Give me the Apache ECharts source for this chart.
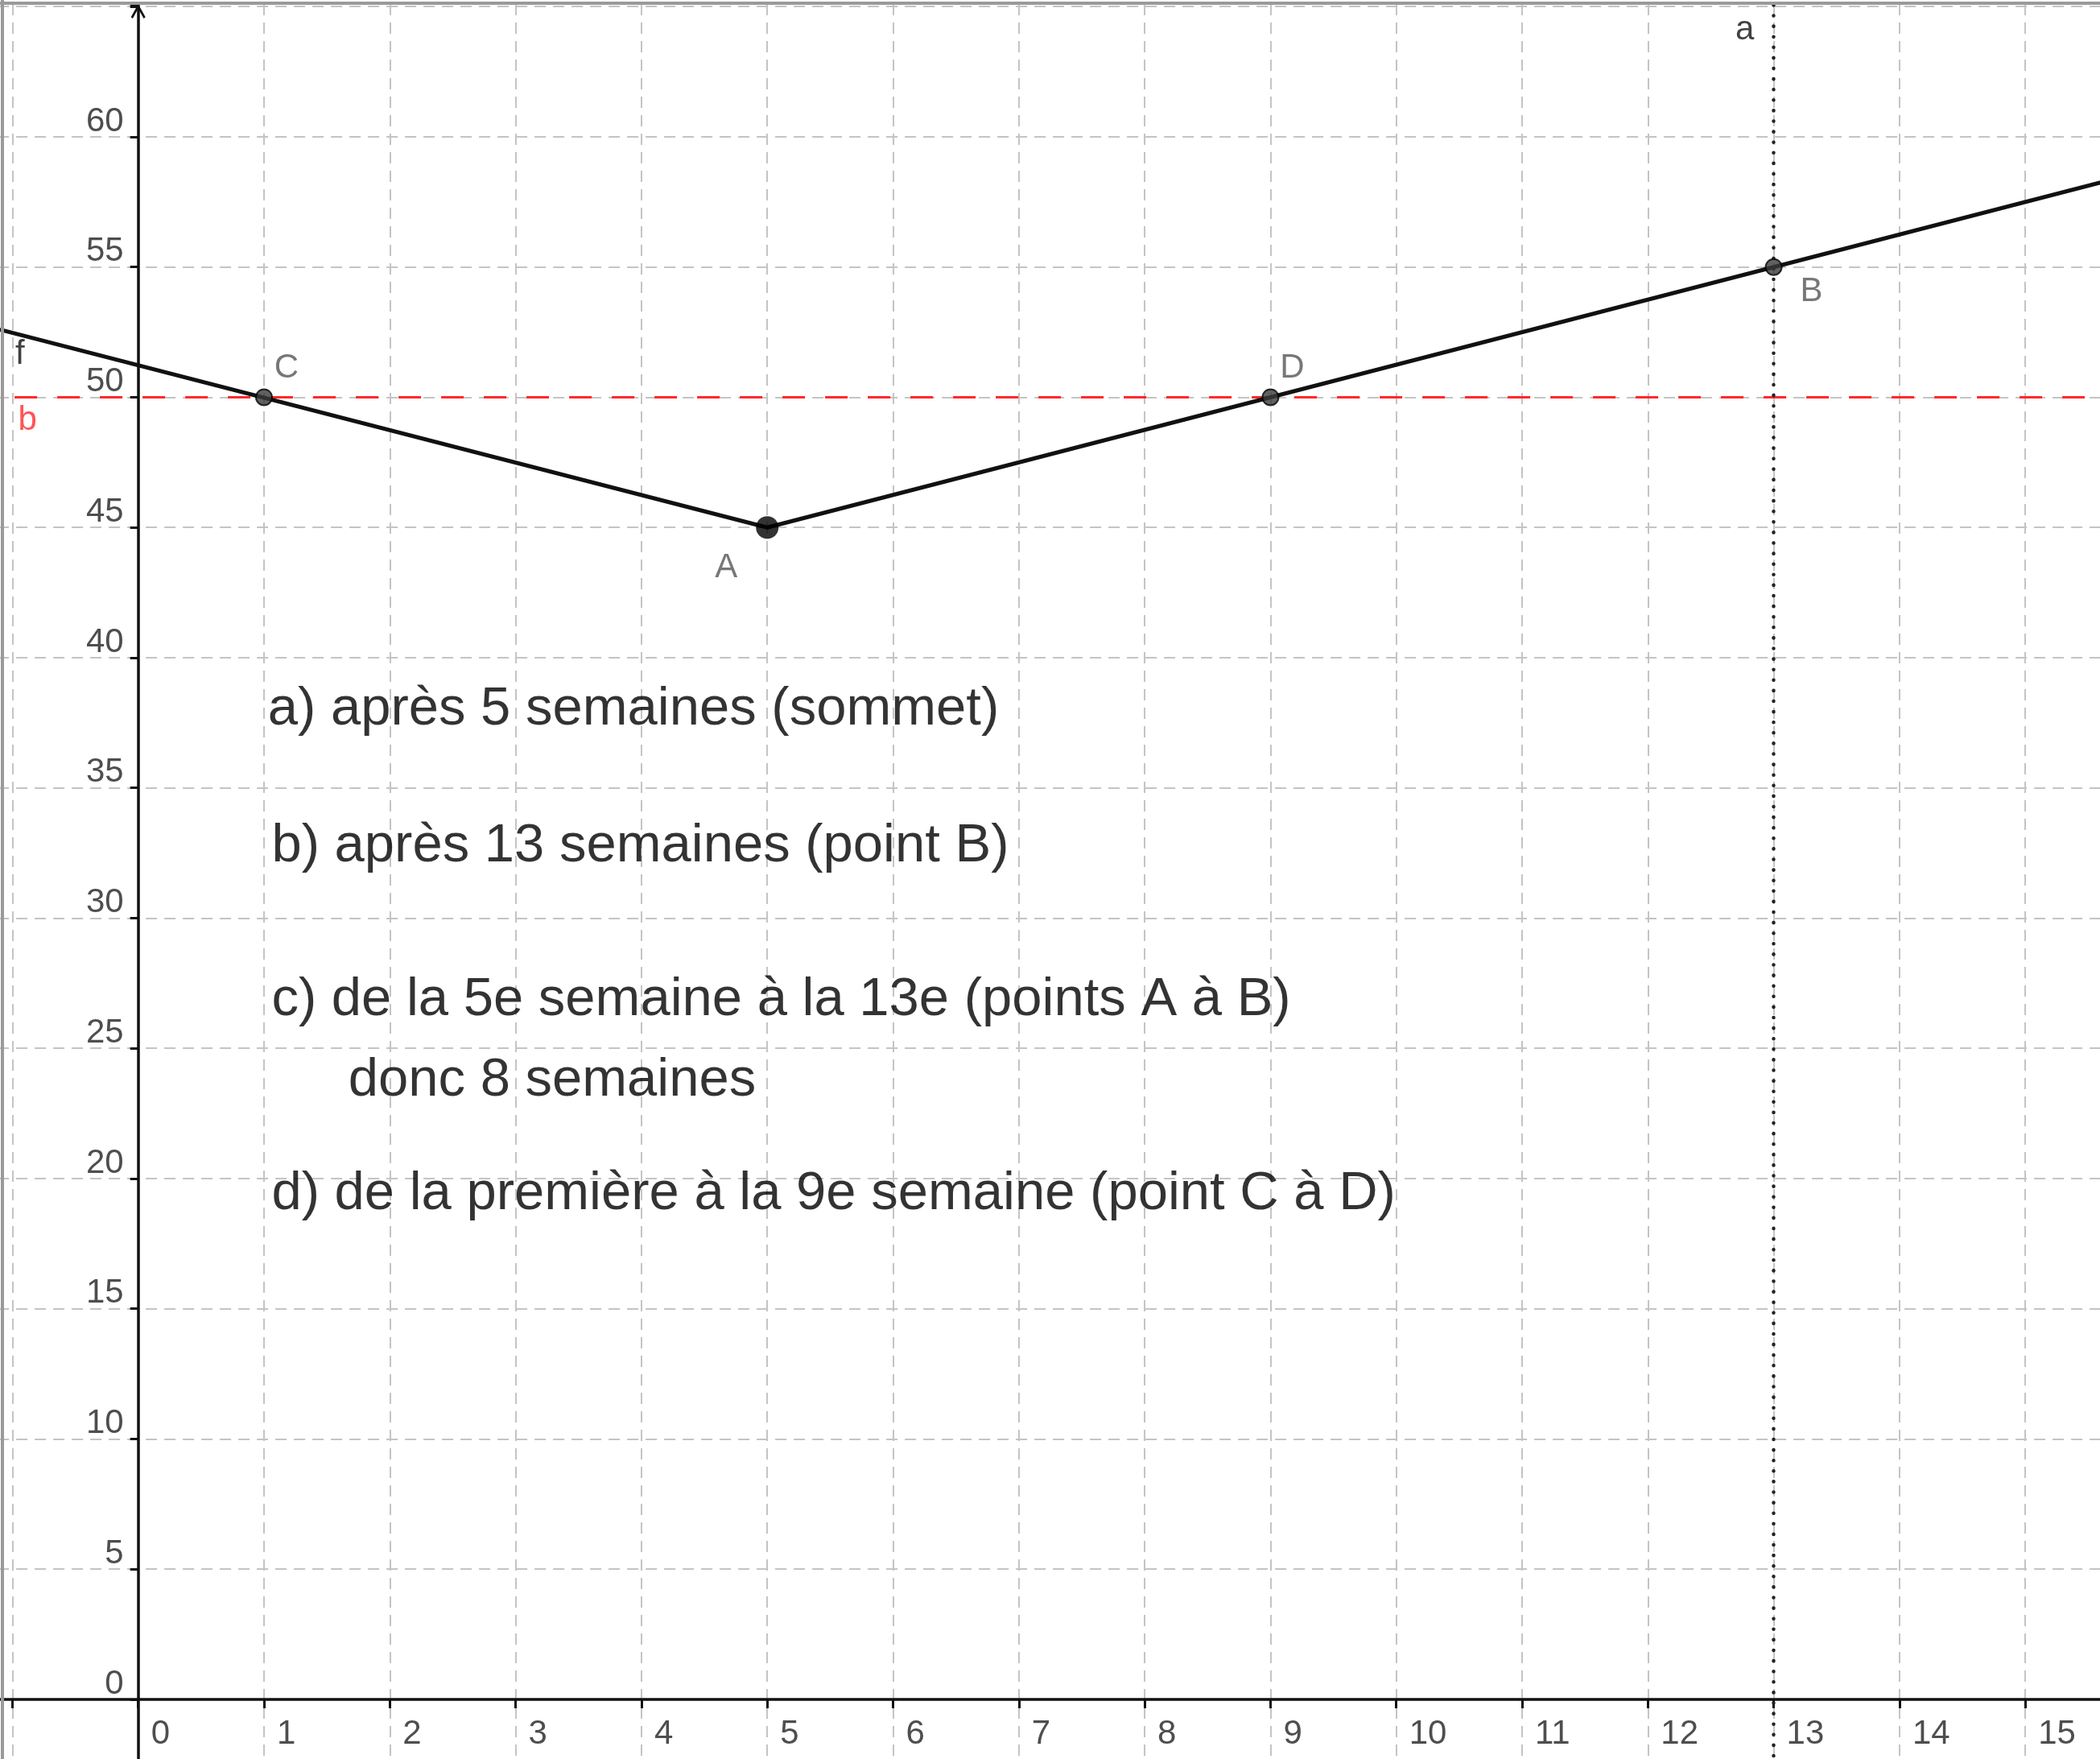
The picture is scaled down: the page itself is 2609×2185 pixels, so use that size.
<!DOCTYPE html>
<html>
<head>
<meta charset="utf-8">
<script src="https://cdn.jsdelivr.net/npm/echarts@6/dist/echarts.min.js"></script>
<style>
html, body { margin: 0; padding: 0; background: #fff; }
#chart { width: 2609px; height: 2185px; }
</style>
</head>
<body>
<div id="chart"></div>
<script>
// values
const fX = [-1.1, 5, 15.6]
const fY = [52.6, 45, 58.25]
const pointNames = ['C', 'A', 'D', 'B']
const pointX = [1, 5, 9, 13]
const pointY = [50, 45, 50, 55]
const lineB = 50
const lineA = 13
const objNames = ['f', 'b', 'a']
const objX = [-0.94, -0.88, 12.77]
const objY = [51.65, 49.1, 64.1]
const notes = [
    'a) après 5 semaines (sommet)',
    'b) après 13 semaines (point B)',
    'c) de la 5e semaine à la 13e (points A à B)',
    'donc 8 semaines',
    'd) de la première à la 9e semaine (point C à D)',
]
const noteX = [1.03, 1.06, 1.06, 1.67, 1.06]
const noteY = [38.0, 32.75, 26.85, 23.75, 19.4]
const xTickLabels = [0, 1, 2, 3, 4, 5, 6, 7, 8, 9, 10, 11, 12, 13, 14, 15]
const yTickLabels = [0, 5, 10, 15, 20, 25, 30, 35, 40, 45, 50, 55, 60]

// styles
const font = 'Liberation Sans'
const gridColor = '#c4c4c4'
const labelOffset = { C: [28, -36], A: [-51, 50], D: [27, -36], B: [47, 31] }
const objColor = { f: '#111', b: '#ff2a2a', a: '#111' }

const myChart = echarts.init(document.getElementById('chart'))

// tick labels sit next to the axes crossing at zero, so they are drawn as text marks
const tickLabelSeries = (data, label) => ({
    type: 'scatter',
    symbolSize: 0,
    silent: true,
    data: data,
    label: Object.assign(
        { show: true, position: 'inside', color: '#222', fontFamily: font, fontSize: 42 },
        label
    ),
})

const option = {
    animation: false,
    backgroundColor: '#fff',
    grid: {
        left: -140.9,
        right: -1,
        top: 5,
        bottom: -87.75,
        containLabel: false,
        outerBoundsMode: 'none',
    },
    xAxis: {
        type: 'value',
        min: -2,
        max: 15.6,
        interval: 1,
        axisLine: { onZero: true, lineStyle: { color: '#111', width: 3.5 } },
        axisTick: { show: true, length: 11, lineStyle: { color: '#111', width: 3 } },
        axisLabel: { show: false },
        splitLine: { show: true, lineStyle: { color: gridColor, width: 2, type: [14, 9] } },
    },
    yAxis: {
        type: 'value',
        min: -5,
        max: 65.1,
        interval: 5,
        axisLine: {
            onZero: true,
            lineStyle: { color: '#111', width: 3.5 },
            symbol: ['none', 'path://M0,9 L5,0 L10,9 L8.8,10 L5,3.2 L1.2,10 Z'],
            symbolSize: [30, 18],
            symbolOffset: [0, -9],
        },
        axisTick: { show: true, length: 10, lineStyle: { color: '#111', width: 3 } },
        axisLabel: { show: false },
        splitLine: { show: true, lineStyle: { color: gridColor, width: 2, type: [14, 9] } },
    },
    graphic: [
        { type: 'line', shape: { x1: 3, y1: 0, x2: 3, y2: 2185 }, style: { stroke: '#9a9a9a', lineWidth: 4 }, z: 100 },
        { type: 'line', shape: { x1: 0, y1: 4, x2: 2609, y2: 4 }, style: { stroke: '#9a9a9a', lineWidth: 4 }, z: 100 },
    ],
    series: [
        {
            name: 'f',
            type: 'line',
            data: fX.map((x, i) => [x, fY[i]]),
            showSymbol: false,
            lineStyle: { color: '#111', width: 5 },
            z: 5,
        },
        {
            name: 'b',
            type: 'line',
            data: [],
            markLine: {
                silent: true,
                symbol: ['none', 'none'],
                label: { show: false },
                lineStyle: { color: '#ff2a2a', width: 3, type: [28, 25] },
                data: [{ yAxis: lineB }],
            },
            z: 3,
        },
        {
            name: 'a',
            type: 'line',
            data: [],
            markLine: {
                silent: true,
                symbol: ['none', 'none'],
                label: { show: false },
                lineStyle: { color: '#222', width: 4.5, type: [0.1, 13], cap: 'round' },
                data: [{ xAxis: lineA }],
            },
            z: 3,
        },
        {
            name: 'points',
            type: 'scatter',
            z: 10,
            data: pointNames.map((n, i) => ({
                name: n,
                value: [pointX[i], pointY[i]],
                symbolSize: n === 'A' ? 28 : 20,
                itemStyle:
                    n === 'A'
                        ? { color: '#000' }
                        : { color: '#3a3a3a', borderColor: '#000', borderWidth: 2 },
                label: { offset: labelOffset[n] },
            })),
            label: {
                show: true,
                position: 'inside',
                formatter: '{b}',
                color: '#555',
                fontFamily: font,
                fontSize: 42,
            },
        },
        {
            name: 'objects',
            type: 'scatter',
            symbolSize: 0,
            data: objNames.map((n, i) => ({
                name: n,
                value: [objX[i], objY[i]],
                label: { color: objColor[n] },
            })),
            label: {
                show: true,
                position: 'inside',
                formatter: '{b}',
                fontFamily: font,
                fontSize: 42,
            },
        },
        tickLabelSeries(
            xTickLabels.map((v) => ({ name: String(v), value: [v, 0] })),
            { formatter: '{b}', align: 'left', verticalAlign: 'top', offset: [16, 22] }
        ),
        tickLabelSeries(
            yTickLabels.map((v) => ({ name: String(v), value: [0, v] })),
            { formatter: '{b}', align: 'right', verticalAlign: 'bottom', offset: [-18, 2] }
        ),
        {
            name: 'notes',
            type: 'scatter',
            symbolSize: 0,
            data: notes.map((t, i) => ({ name: t, value: [noteX[i], noteY[i]] })),
            label: {
                show: true,
                position: 'inside',
                align: 'left',
                verticalAlign: 'middle',
                formatter: '{b}',
                color: '#000',
                fontFamily: font,
                fontSize: 67,
            },
        },
    ],
}

myChart.setOption(option)
</script>
</body>
</html>
